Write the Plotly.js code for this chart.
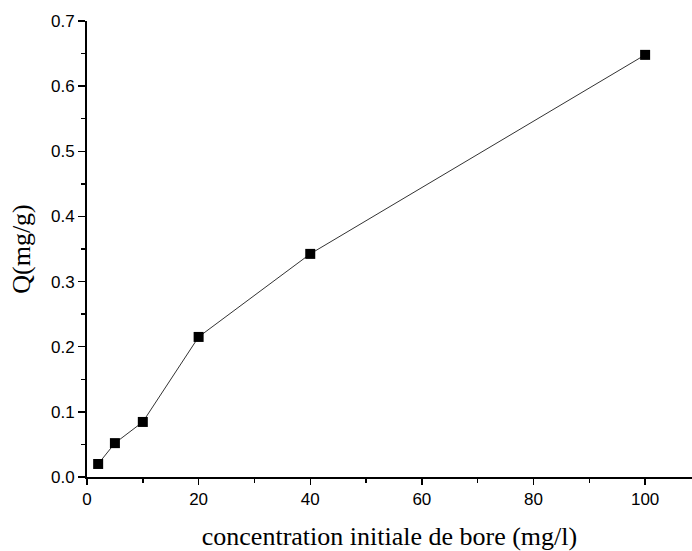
<!DOCTYPE html>
<html>
<head>
<meta charset="utf-8">
<script src="https://cdn.plot.ly/plotly-3.0.1.min.js"></script>
<style>html,body{margin:0;padding:0;background:#fff;}#chart{width:692px;height:551px;}</style>
</head>
<body>
<div id="chart"></div>
<script>
const concentration = [2, 5, 10, 20, 40, 100];
const adsorbed = [0.020, 0.052, 0.0845, 0.215, 0.3425, 0.648];
const xTitle = 'concentration initiale de bore (mg/l)';
const yTitle = 'Q(mg/g)';

const trace = {
  x: concentration,
  y: adsorbed,
  mode: 'lines+markers',
  type: 'scatter',
  line: {color: '#333333', width: 1},
  marker: {symbol: 'square', size: 10, color: '#000000'},
  showlegend: false
};

const layout = {
  width: 692, height: 551,
  margin: {l: 87, r: 0, t: 21, b: 74},
  paper_bgcolor: '#ffffff', plot_bgcolor: '#ffffff',
  xaxis: {
    range: [0, 108.4], dtick: 20, tick0: 0,
    showgrid: false, zeroline: false,
    showline: true, linecolor: '#000', linewidth: 2,
    ticks: 'outside', ticklen: 6, tickwidth: 1.5, tickcolor: '#000',
    minor: {dtick: 10, ticks: 'outside', ticklen: 4, tickwidth: 1.5, tickcolor: '#000', showgrid: false},
    tickfont: {family: 'Liberation Sans, Arial, sans-serif', size: 17, color: '#000'},
    title: {text: xTitle, font: {family: 'Liberation Serif, Times New Roman, serif', size: 26, color: '#000'}, standoff: 18},
    automargin: false
  },
  yaxis: {
    range: [0, 0.7], dtick: 0.1, tick0: 0, tickformat: '.1f',
    showgrid: false, zeroline: false,
    showline: true, linecolor: '#000', linewidth: 2,
    ticks: 'outside', ticklen: 7, tickwidth: 1.5, tickcolor: '#000',
    minor: {dtick: 0.05, ticks: 'outside', ticklen: 4, tickwidth: 1.5, tickcolor: '#000', showgrid: false},
    tickfont: {family: 'Liberation Sans, Arial, sans-serif', size: 17, color: '#000'},
    title: {text: yTitle, font: {family: 'Liberation Serif, Times New Roman, serif', size: 26, color: '#000'}, standoff: 13},
    automargin: false
  }
};

Plotly.newPlot('chart', [trace], layout, {displayModeBar: false, staticPlot: true});
</script>
</body>
</html>
